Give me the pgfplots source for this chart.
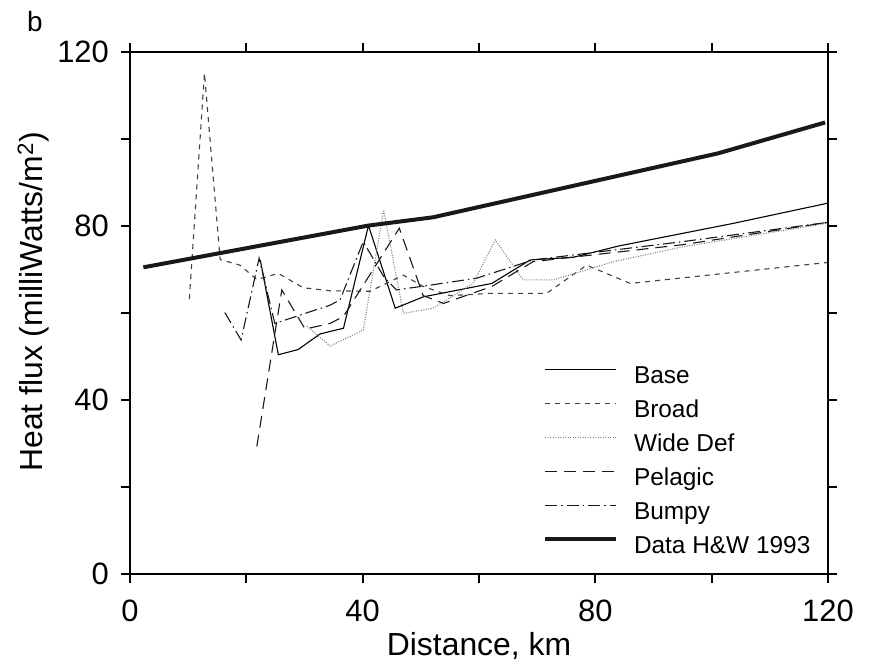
\documentclass[border=0pt]{standalone}
\usepackage{pgfplots}
\pgfplotsset{compat=1.18}
\usepackage{fontspec}
\setmainfont{Liberation Sans}
\begin{document}
\begin{tikzpicture}
\useasboundingbox (-130bp,-93bp) rectangle (739bp,574bp);
\node[anchor=base west, font=\fontsize{28}{28}\selectfont, inner sep=0pt] at (-103bp,542bp) {b};
\begin{axis}[
  at={(0,0)}, anchor=south west,
  scale only axis, width=698bp, height=522bp,
  xmin=0, xmax=120, ymin=0, ymax=120,
  xtick={0,20,...,120}, xticklabels={0,,40,,80,,120},
  ytick={0,20,...,120}, yticklabels={0,,40,,80,,120},
  tick align=outside, major tick length=9bp,
  axis line style={line width=2bp},
  every tick/.style={black, line width=2bp},
  /pgf/number format/assume math mode=true,
  ticklabel style={font=\fontsize{31}{31}\selectfont},
  xticklabel style={anchor=north, inner sep=0pt, yshift=-17bp},
  yticklabel style={anchor=east, inner sep=0pt, xshift=-12bp},
  xlabel={Distance, km},
  ylabel={Heat flux (milliWatts/m\textsuperscript{2})},
  label style={font=\fontsize{32}{32}\selectfont, inner sep=0pt},
  xlabel style={at={(axis description cs:0.5,-0.1552)}, anchor=base},
  ylabel style={at={(axis description cs:-0.126,0.521)}, anchor=base},
  legend cell align=left,
  legend image code/.code={\draw[#1] (0bp,8.5bp) -- (71bp,8.5bp); \path (87bp,0bp);},
  legend style={draw=none, fill=none, at={(axis description cs:0.5917,0.3979)}, anchor=north west,
    inner sep=0pt, outer sep=0pt, row sep=11bp,
    font=\fontsize{24.5}{24.5}\selectfont,
    nodes={inner sep=0pt, text height=17bp, text depth=6bp}},
]
% Base
\addplot[black, line width=1.1bp] coordinates {
(22.4,72.2) (25.5,50.4) (28.9,51.6) (32.7,55.2) (36.7,56.5) (41.0,80.1) (45.6,61.1)
(50.4,63.7) (62.2,66.8) (68.8,72.2) (76.2,72.8) (84,75.4) (103.7,80.6) (119.8,85.2)};
\addlegendentry{Base}
% Broad
\addplot[black!75, line width=1.1bp, dash pattern=on 5bp off 5bp] coordinates {
(10.2,63.2) (12.8,115.1) (15.5,72.3) (18.9,71.0) (21.8,67.7) (25.5,69.1) (29.8,65.8)
(34.4,65.1) (41.3,65.0) (47.0,68.7) (50.4,66.1) (55.0,64.0) (61.9,64.5) (71.6,64.5)
(78.5,71.0) (86.0,66.8) (119.8,71.6)};
\addlegendentry{Broad}
% Wide Def
\addplot[black!50, line width=1.1bp, dash pattern=on 1bp off 1.5bp] coordinates {
(30.4,57.0) (34.4,52.4) (40.1,56.1) (43.6,83.7) (47.0,59.9) (52.1,61.1) (59.0,66.8)
(62.8,76.8) (67.6,67.6) (72.8,67.6) (83.1,71.8) (95.0,75.2) (119.8,80.6)};
\addlegendentry{Wide Def}
% Pelagic
\addplot[black!90, line width=1.1bp, dash pattern=on 12bp off 7bp] coordinates {
(21.8,29.3) (26.1,65.3) (30.1,56.3) (34.4,57.6) (36.7,59.2) (46.3,79.5) (50.4,64.0)
(53.9,62.2) (62.2,66.1) (69.3,71.8) (95.0,75.7) (119.8,80.8)};
\addlegendentry{Pelagic}
% Bumpy
\addplot[black!90, line width=1.1bp, dash pattern=on 12bp off 4bp on 1.5bp off 4bp] coordinates {
(16.3,60.1) (19.1,53.8) (22.2,72.6) (24.9,57.6) (34.4,61.8) (36.1,63.0) (40.1,76.4)
(43.6,68.4) (45.8,65.3) (51.6,66.4) (59.6,68.0) (69.3,72.2) (95.0,76.4) (119.8,80.8)};
\addlegendentry{Bumpy}
% Data H&W 1993
\addplot[black!90, line width=4bp] coordinates {
(2.3,70.5) (41.0,80.1) (52.1,82.0) (101.1,96.7) (119.5,103.8)};
\addlegendentry{Data H\&W 1993}
\end{axis}
\end{tikzpicture}
\end{document}
